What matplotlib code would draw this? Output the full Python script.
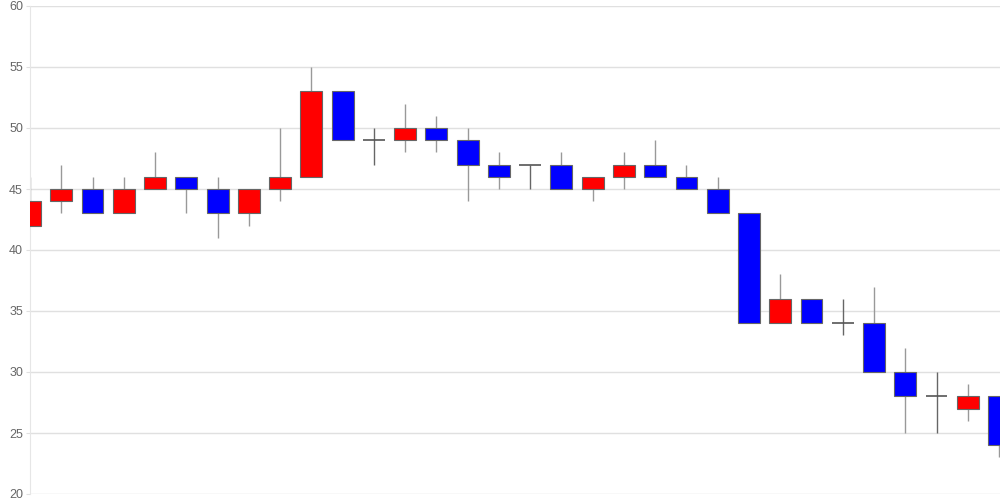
import matplotlib
matplotlib.use("Agg")
import matplotlib.pyplot as plt

plt.rcParams["font.family"] = ["Liberation Sans", "DejaVu Sans"]

# daily OHLC values
opens  = [42, 44, 45, 43, 45, 46, 45, 43, 45, 46, 53, 49, 49, 50, 49, 47,
          47, 47, 45, 46, 47, 46, 45, 43, 34, 36, 34, 34, 30, 28, 27, 28]
highs  = [46, 47, 46, 46, 48, 46, 46, 45, 50, 55, 53, 50, 52, 51, 50, 48,
          47, 48, 46, 48, 49, 47, 46, 43, 38, 36, 36, 37, 32, 30, 29, 28]
lows   = [42, 43, 43, 43, 45, 43, 41, 42, 44, 46, 49, 47, 48, 48, 44, 45,
          45, 45, 44, 45, 46, 45, 43, 34, 34, 34, 33, 30, 25, 25, 26, 23]
closes = [44, 45, 43, 45, 46, 45, 43, 45, 46, 53, 49, 49, 50, 49, 47, 46,
          47, 45, 46, 47, 46, 45, 43, 34, 36, 34, 34, 30, 28, 28, 28, 24]

y_ticks = [20, 25, 30, 35, 40, 45, 50, 55, 60]

fig = plt.figure(figsize=(10, 5), dpi=100)
ax = fig.add_axes([0.03, 0.012, 0.97, 0.976])

width = 0.7
for i, (o, h, l, c) in enumerate(zip(opens, highs, lows, closes)):
    if o == c:
        # doji: plain cross
        ax.vlines(i, l, h, color="#666666", linewidth=1, zorder=2)
        ax.hlines(o, i - width / 2, i + width / 2, color="#555555", linewidth=1.2, zorder=3)
        continue
    color = "#ff0000" if c > o else "#0000ff"
    ax.vlines(i, l, h, color="#999999", linewidth=1, zorder=2)
    ax.bar(i, abs(c - o), bottom=min(o, c), width=width, color=color,
           edgecolor="#666666", linewidth=0.8, zorder=3)

ax.set_xlim(0, 31.03)
ax.set_ylim(20, 60)
ax.set_yticks(y_ticks)
ax.set_xticks([])
ax.grid(axis="y", color="#e0e0e0", linewidth=1)
ax.set_axisbelow(True)
for s in ["top", "right", "bottom"]:
    ax.spines[s].set_visible(False)
ax.spines["left"].set_color("#e6e6e6")
ax.tick_params(axis="y", length=3, color="#e0e0e0", labelcolor="#666666",
               labelsize=9, pad=2)

fig.savefig("out.png", dpi=100)
